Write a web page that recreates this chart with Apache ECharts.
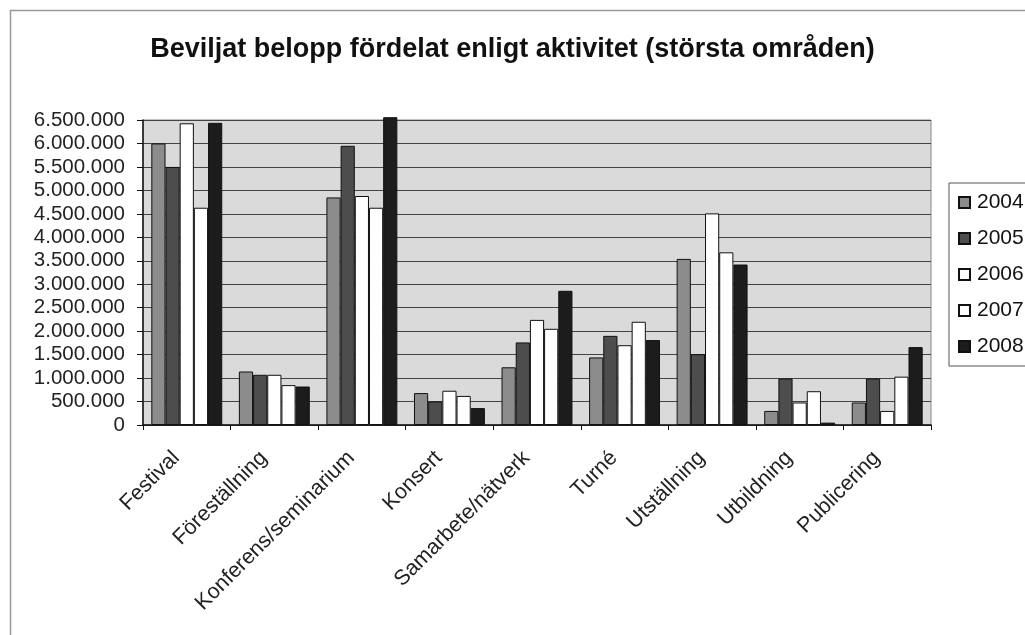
<!DOCTYPE html>
<html>
<head>
<meta charset="utf-8">
<script src="https://cdn.jsdelivr.net/npm/echarts@6/dist/echarts.min.js"></script>
<style>
  html, body { margin: 0; padding: 0; background: #fff; }
  #chart { width: 1025px; height: 635px; }
</style>
</head>
<body>
<div id="chart"></div>
<script>
// kategorier (aktiviteter)
var categories = ['Festival', 'Föreställning', 'Konferens/seminarium', 'Konsert',
  'Samarbete/nätverk', 'Turné', 'Utställning', 'Utbildning', 'Publicering'];

// beviljat belopp per år
var y2004 = [6000000, 1140000, 4850000, 680000, 1230000, 1440000, 3540000, 300000, 480000];
var y2005 = [5500000, 1070000, 5950000, 500000, 1760000, 1900000, 1510000, 990000, 990000];
var y2006 = [6430000, 1070000, 4880000, 730000, 2240000, 1700000, 4510000, 480000, 300000];
var y2007 = [4630000, 850000, 4630000, 620000, 2050000, 2200000, 3680000, 720000, 1030000];
var y2008 = [6440000, 820000, 6560000, 360000, 2860000, 1810000, 3420000, 50000, 1660000];

var years = ['2004', '2005', '2006', '2007', '2008'];
var colors = ['#8c8c8c', '#4d4d4d', '#ffffff', '#ffffff', '#1c1c1c'];

function fmt(v) {
  return String(v).replace(/\B(?=(\d{3})+(?!\d))/g, '.');
}

function serie(name, data, color) {
  return {
    name: name,
    type: 'bar',
    data: data,
    clip: false,
    barGap: '0%',
    barCategoryGap: '19%',
    itemStyle: { color: color, borderColor: '#111', borderWidth: 1 }
  };
}

var chart = echarts.init(document.getElementById('chart'));
var option = {
  animation: false,
  textStyle: { fontFamily: 'Liberation Sans, Arial, sans-serif' },
  graphic: [{
    type: 'rect',
    left: 8, top: 8,
    shape: { width: 1100, height: 626 },
    style: { fill: 'none', stroke: '#999', lineWidth: 1.5 },
    z: -10
  }],
  title: {
    text: 'Beviljat belopp fördelat enligt aktivitet (största områden)',
    left: 'center',
    top: 31,
    textStyle: { fontSize: 27, fontWeight: 'bold', color: '#111', fontFamily: 'Liberation Sans, Arial, sans-serif' }
  },
  legend: {
    orient: 'vertical',
    left: 949,
    top: 183,
    data: years,
    icon: 'rect',
    itemWidth: 11,
    itemHeight: 11,
    itemGap: 15,
    padding: [9, 30, 9, 9],
    borderColor: '#555',
    borderWidth: 1,
    textStyle: { fontSize: 21, color: '#111', padding: [0, 0, 0, 2] }
  },
  grid: {
    left: 143, right: 94, top: 120, bottom: 210,
    show: true,
    backgroundColor: '#dadada',
    borderColor: '#888',
    borderWidth: 1
  },
  xAxis: {
    type: 'category',
    data: categories,
    axisLine: { lineStyle: { color: '#111', width: 1.5 } },
    axisTick: { show: true, length: 5, lineStyle: { color: '#111' } },
    axisLabel: { rotate: 45, fontSize: 21.5, color: '#222', margin: 19, interval: 0, padding: [0, 15, 0, 0] }
  },
  yAxis: {
    type: 'value',
    min: 0,
    max: 6500000,
    interval: 500000,
    axisLine: { show: true, lineStyle: { color: '#111', width: 1.5 } },
    axisTick: { show: true, length: 6, lineStyle: { color: '#111' } },
    axisLabel: { fontSize: 20.5, color: '#222', margin: 18, formatter: fmt },
    splitLine: { lineStyle: { color: '#444', width: 1 } }
  },
  series: [
    serie('2004', y2004, colors[0]),
    serie('2005', y2005, colors[1]),
    serie('2006', y2006, colors[2]),
    serie('2007', y2007, colors[3]),
    serie('2008', y2008, colors[4])
  ]
};
chart.setOption(option);
</script>
</body>
</html>
